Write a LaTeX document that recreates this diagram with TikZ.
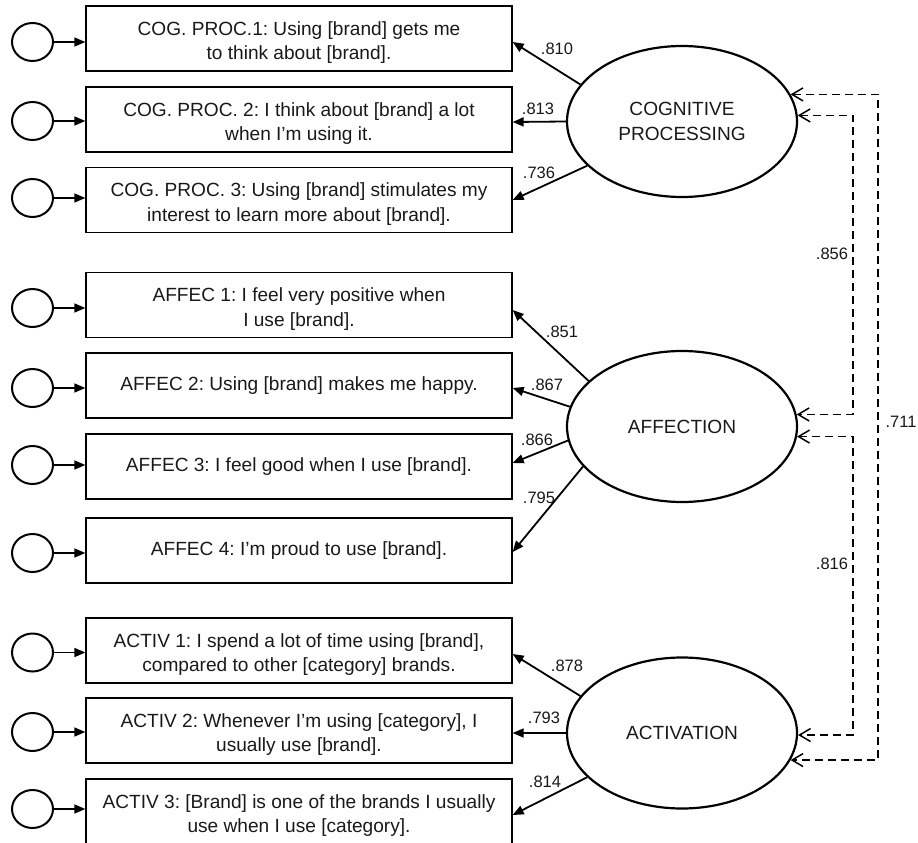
\documentclass[tikz,border=0pt]{standalone}
\usepackage{fontspec}
\setmainfont{Liberation Sans}
\usetikzlibrary{arrows.meta,shapes.geometric}
\newcommand{\mystrut}{\rule{0pt}{22pt}}
\frenchspacing
\begin{document}
\begin{tikzpicture}[x=1pt,y=-1pt,
  boxst/.style={draw, line width=1.3pt, minimum width=426pt, minimum height=65pt, inner sep=0pt, align=center, font=\fontsize{19.1}{24.7}\selectfont\frenchspacing, text=black!90},
  errst/.style={draw, ellipse, line width=2pt, minimum width=41pt, minimum height=38pt, inner sep=0pt},
  latst/.style={draw, ellipse, line width=2.2pt, minimum width=230pt, minimum height=151pt, inner sep=0pt, align=center, font=\fontsize{19.1}{24.7}\selectfont, text=black!90},
  errarr/.style={line width=1.6pt, -{Triangle[length=11pt,width=9pt]}},
  loadarr/.style={line width=1.8pt, -{Triangle[length=11pt,width=9pt]}},
  corr/.style={line width=1.5pt, dash pattern=on 8pt off 5pt, {Straight Barb[length=11pt,width=13pt]}-{Straight Barb[length=11pt,width=13pt]}},
  wlab/.style={font=\fontsize{16.5}{18}\selectfont, inner sep=0pt, text=black!90}
]
\useasboundingbox (0,0) rectangle (918,843);

% indicator boxes
\node[boxst] (b1) at (299,38.5) {\mystrut COG. PROC.1: Using [brand] gets me\\to think about [brand].};
\node[boxst] (b2) at (299,119.5) {\mystrut COG. PROC. 2: I think about [brand] a lot\\when I’m using it.};
\node[boxst] (b3) at (299,200) {\mystrut COG. PROC. 3: Using [brand] stimulates my\\interest to learn more about [brand].};
\node[boxst] (b4) at (299,305) {\mystrut AFFEC 1: I feel very positive when\\I use [brand].};
\node[boxst] (b5) at (299,385.5) {AFFEC 2: Using [brand] makes me happy.};
\node[boxst] (b6) at (299,466.5) {AFFEC 3: I feel good when I use [brand].};
\node[boxst] (b7) at (299,550.5) {AFFEC 4: I’m proud to use [brand].};
\node[boxst] (b8) at (299,650.5) {\mystrut ACTIV 1: I spend a lot of time using [brand],\\compared to other [category] brands.};
\node[boxst] (b9) at (299,730.5) {\mystrut ACTIV 2: Whenever I’m using [category], I\\usually use [brand].};
\node[boxst] (b10) at (299,811.5) {\mystrut ACTIV 3: [Brand] is one of the brands I usually\\use when I use [category].};

% error terms
\node[errst] (e1) at (32.5,42) {};
\node[errst] (e2) at (32.5,121) {};
\node[errst] (e3) at (32.5,198) {};
\node[errst] (e4) at (32.5,308) {};
\node[errst] (e5) at (32.5,388) {};
\node[errst] (e6) at (32.5,465) {};
\node[errst] (e7) at (32.5,553) {};
\node[errst] (e8) at (32.5,652.5) {};
\node[errst] (e9) at (32.5,732) {};
\node[errst] (e10) at (32.5,809) {};
\foreach \i in {1,...,10}{
  \draw[errarr] (e\i) -- (e\i -| b\i.west);
}

% latent variables
\node[latst] (cog) at (682,121.5) {COGNITIVE\\PROCESSING};
\node[latst] (aff) at (682,426.5) {AFFECTION};
\node[latst] (act) at (682,733) {ACTIVATION};

% loadings
\draw[loadarr] (cog.160) -- ([yshift=-3.5pt]b1.east);
\draw[loadarr] (cog.180) -- ([yshift=-2.5pt]b2.east);
\draw[loadarr] (cog.205.8) -- (b3.east);
\draw[loadarr] (aff.154.2) -- ([yshift=-5pt]b4.east);
\draw[loadarr] (aff.170.4) -- ([yshift=-2.5pt]b5.east);
\draw[loadarr] (aff.187.2) -- ([yshift=3.5pt]b6.east);
\draw[loadarr] (aff.202.5) -- ([yshift=-1.5pt]b7.east);
\draw[loadarr] (act.160.4) -- ([yshift=-3.5pt]b8.east);
\draw[loadarr] (act.180) -- ([yshift=-2.5pt]b9.east);
\draw[loadarr] (act.205.6) -- ([yshift=-3.5pt]b10.east);

\node[wlab] (l810) at (557,49) {.810};
\node[wlab] (l813) at (538,109) {.813};
\node[wlab] (l736) at (539,172.5) {.736};
\node[wlab] (l851) at (562,332) {.851};
\node[wlab] (l867) at (547,385) {.867};
\node[wlab] (l866) at (537,439.5) {.866};
\node[wlab] (l795) at (539,498) {.795};
\node[wlab] (l878) at (567,666) {.878};
\node[wlab] (l793) at (544,718) {.793};
\node[wlab] (l814) at (545,782) {.814};

% correlations
\coordinate (vin) at (853,0);
\coordinate (vout) at (878,0);
\draw[corr] (cog.3) -- (cog.3 -| vin) -- (aff.6 -| vin) -- (aff.6);
\draw[corr] (aff.355) -- (aff.355 -| vin) -- (act.359 -| vin) -- (act.359);
\draw[corr] (cog.14) -- (cog.14 -| vout) -- (act.346.5 -| vout) -- (act.346.5);

\node[wlab] (l856) at (832,253.5) {.856};
\node[wlab] (l816) at (832,564) {.816};
\node[wlab] (l711) at (901,421.5) {.711};
\end{tikzpicture}
\end{document}
